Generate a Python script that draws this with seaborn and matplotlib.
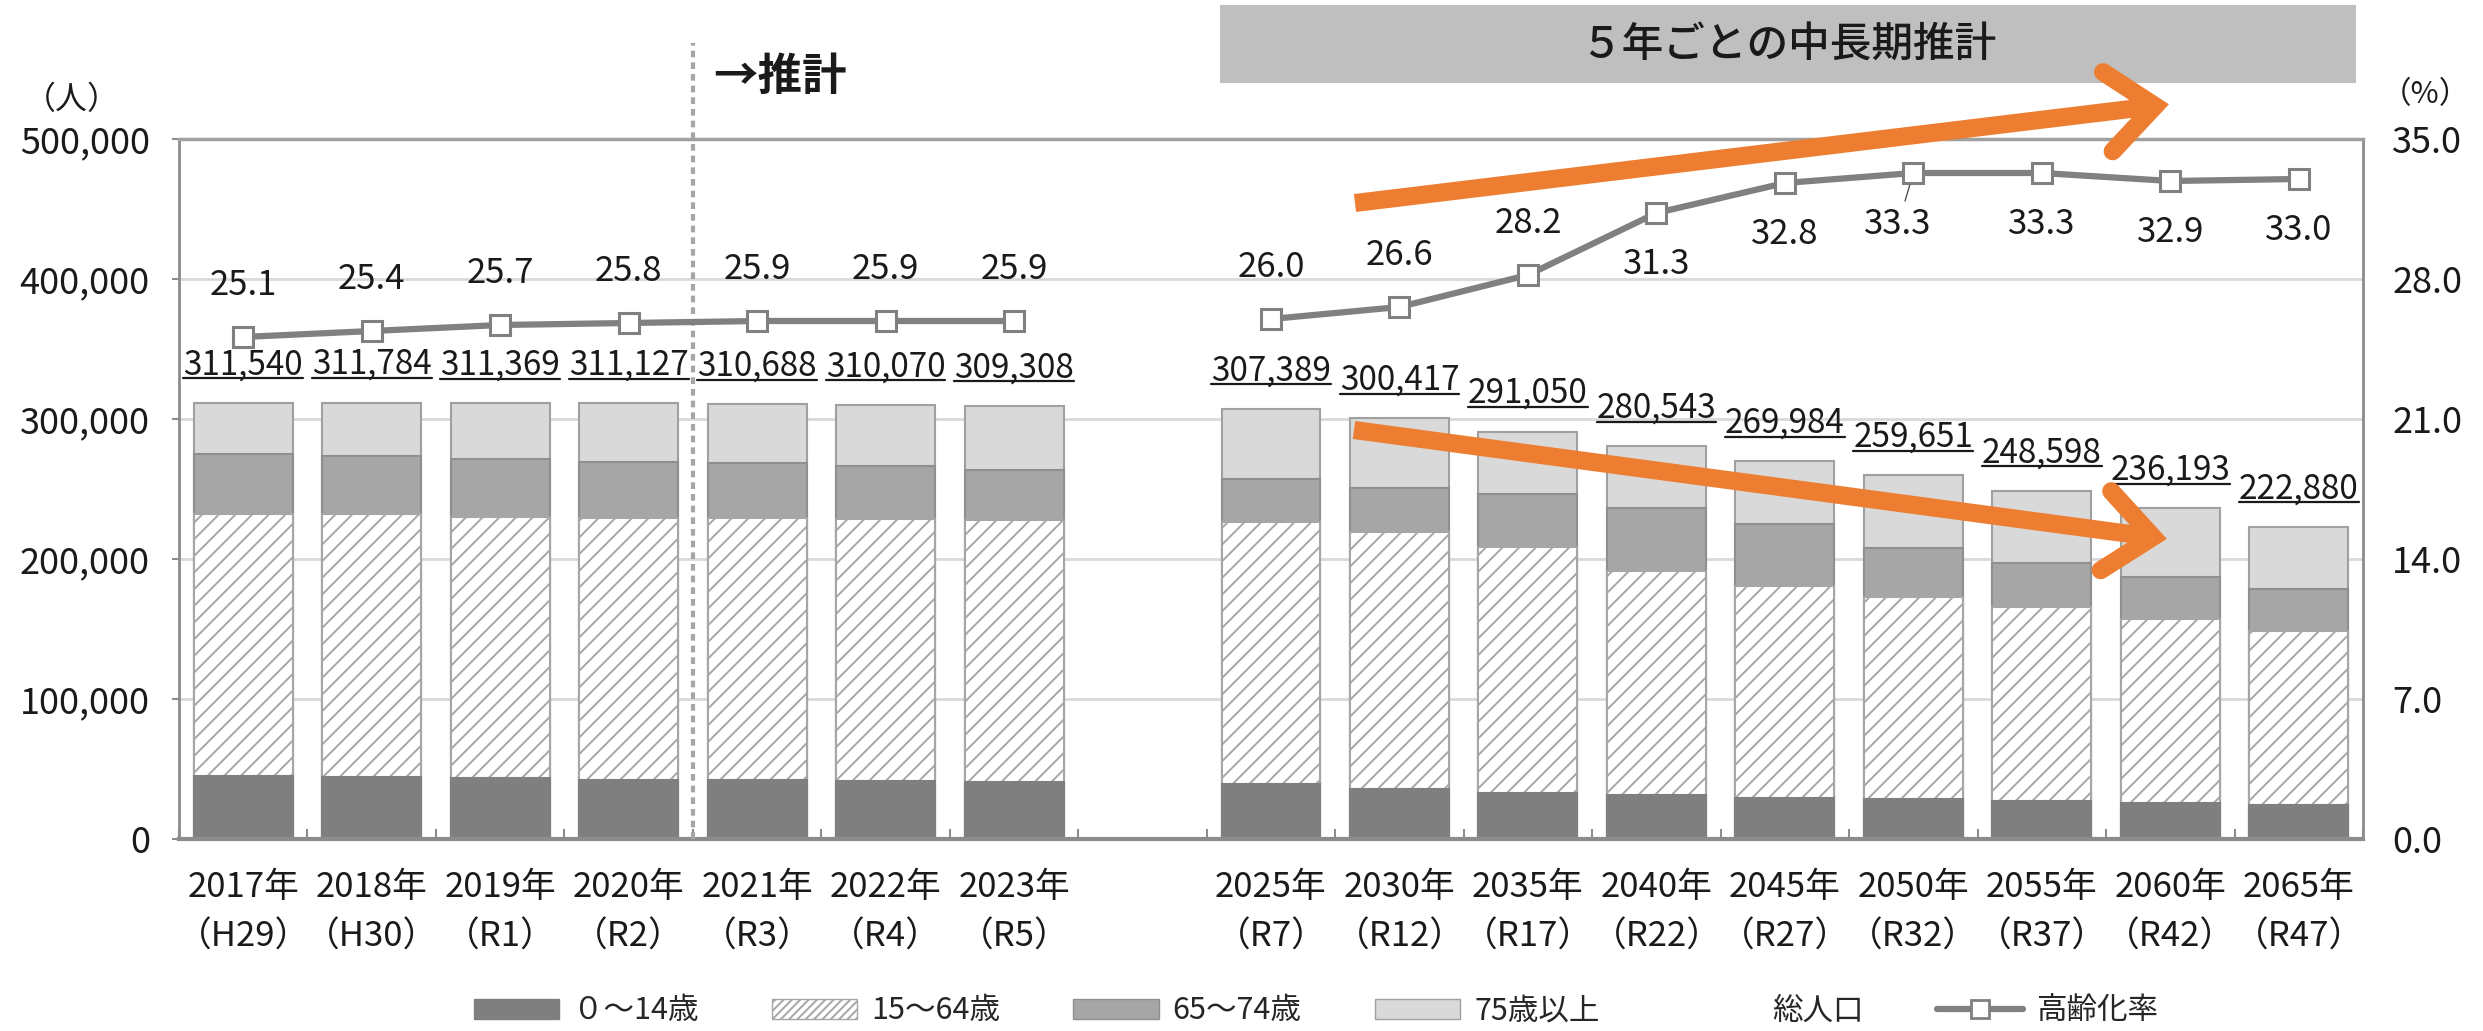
import numpy as np
import pandas as pd
import matplotlib
matplotlib.use("Agg")
import matplotlib.pyplot as plt
import seaborn as sns
from matplotlib.patches import Patch, Rectangle
from matplotlib.lines import Line2D
from matplotlib.ticker import FuncFormatter

# ---------------- data ----------------
years = ["2017年", "2018年", "2019年", "2020年", "2021年", "2022年", "2023年",
         "2025年", "2030年", "2035年", "2040年", "2045年", "2050年", "2055年", "2060年", "2065年"]
eras = ["（H29）", "（H30）", "（R1）", "（R2）", "（R3）", "（R4）", "（R5）",
        "（R7）", "（R12）", "（R17）", "（R22）", "（R27）", "（R32）", "（R37）", "（R42）", "（R47）"]
period = ["実績"] * 7 + ["中長期推計"] * 9

age_0_14 = [45000, 44400, 43500, 42300, 42300, 41200, 40600,
            39400, 35500, 33200, 31700, 29600, 28700, 27200, 25800, 24600]
age_15_64 = [186900, 187500, 186600, 187200, 186900, 187100, 187100,
             187100, 183600, 175600, 159900, 151000, 144500, 138300, 131700, 124100]
age_65_74 = [43200, 42000, 41200, 40000, 39400, 37900, 35800,
             30500, 31700, 37300, 45000, 44200, 35000, 31400, 29400, 29600]
age_75_plus = [36440, 37884, 40069, 41627, 42088, 43870, 45808,
               50389, 49617, 44950, 43943, 45184, 51451, 51698, 49293, 44580]
total_pop = [311540, 311784, 311369, 311127, 310688, 310070, 309308,
             307389, 300417, 291050, 280543, 269984, 259651, 248598, 236193, 222880]
aging_rate = [25.1, 25.4, 25.7, 25.8, 25.9, 25.9, 25.9,
              26.0, 26.6, 28.2, 31.3, 32.8, 33.3, 33.3, 32.9, 33.0]

legend_labels = ["０～14歳", "15～64歳", "65～74歳", "75歳以上", "総人口", "高齢化率"]

# layout-only helpers (label placement above/below the marker)
rate_label_side = ["above"] * 10 + ["below"] * 6
rate_label_dx = [0] * 12 + [-11] + [0] * 3      # 2050 label shifted, with leader line
rate_label_leader = [False] * 12 + [True] + [False] * 3

# ---------------- styling ----------------
sns.set_theme(style="white")
plt.rcParams["font.family"] = ["Noto Sans CJK JP", "DejaVu Sans"]
plt.rcParams["hatch.linewidth"] = 1.4
plt.rcParams["hatch.color"] = "#a6a6a6"

C_YOUNG = "#7f7f7f"
C_WORK = "#ffffff"
C_EARLY = "#a6a6a6"
C_LATE = "#d9d9d9"
C_EDGE = "#8f8f8f"
C_LINE = "#808080"
C_TEXT = "#1a1a1a"
C_ORANGE = "#ED7D31"

labels = [f"{y}\n{e}" for y, e in zip(years, eras)]
order = labels[:7] + [" "] + labels[7:]
pos = [order.index(l) for l in labels]

df = pd.DataFrame({
    "label": labels, "pos": pos, "period": period,
    "young": age_0_14, "work": age_15_64, "early": age_65_74, "late": age_75_plus,
    "total": total_pop, "rate": aging_rate,
})
df["c1"] = df["young"]
df["c2"] = df["c1"] + df["work"]
df["c3"] = df["c2"] + df["early"]
df["c4"] = df["c3"] + df["late"]

W, H = 2483, 1031
fig = plt.figure(figsize=(W / 100, H / 100), dpi=100)
ax = fig.add_axes([179 / W, (H - 839) / H, 2184 / W, 700 / H])

common = dict(data=df, x="label", order=order, width=0.77, saturation=1,
              errorbar=None, ax=ax, linewidth=1.5)
sns.barplot(y="c4", color=C_LATE, edgecolor="#a0a0a0", **common)
sns.barplot(y="c3", color=C_EARLY, edgecolor=C_EDGE, **common)
sns.barplot(y="c2", color=C_WORK, edgecolor="#a6a6a6", hatch="//", **common)
sns.barplot(y="c1", color=C_YOUNG, edgecolor=C_YOUNG, **common)

ax.set_xlim(-0.5, len(order) - 0.5)
ax.set_ylim(0, 500000)
ax.set_yticks(np.arange(0, 500001, 100000))
ax.yaxis.set_major_formatter(FuncFormatter(lambda v, p: f"{int(v):,}"))
ax.set_xlabel("")
ax.set_ylabel("")
ax.yaxis.grid(True, color="#d9d9d9", lw=2)
ax.set_axisbelow(True)
for s in ["left", "right", "bottom"]:
    ax.spines[s].set_color("#8c8c8c")
    ax.spines[s].set_linewidth(2)
ax.spines["bottom"].set_linewidth(3)
ax.spines["top"].set_color("#a0a0a0")
ax.spines["top"].set_linewidth(2.5)

ax.tick_params(axis="y", labelsize=26, colors="#8c8c8c", labelcolor=C_TEXT,
               length=5, width=1.5, direction="out", pad=16, left=True)
ax.tick_params(axis="x", which="major", length=0, labelsize=25, pad=22, labelcolor=C_TEXT)
ax.set_xticks(np.arange(-0.5, len(order), 1), minor=True)
ax.tick_params(axis="x", which="minor", direction="in", length=7, width=1.5,
               color="#8c8c8c", bottom=True)
for t in ax.get_xticklabels():
    t.set_linespacing(1.55)

# dotted separator between actual and estimated
ax.axvline(3.5, ymin=0, ymax=(839 - 43) / 700, clip_on=False, color="#a6a6a6",
           lw=3, ls=(0, (1.6, 1.2)), zorder=5)

# total population labels (underlined)
total_texts = []
for p, tot in zip(df["pos"], df["total"]):
    t = ax.annotate(f"{tot:,}", xy=(p, tot), xytext=(0, 20.5), textcoords="offset points",
                    ha="center", va="baseline", fontsize=24, color=C_TEXT, zorder=6)
    total_texts.append(t)

# aging rate line on secondary axis
ax2 = ax.twinx()
sns.lineplot(data=df, x="pos", y="rate", units="period", estimator=None, sort=True,
             color=C_LINE, lw=4.5, marker="s", markersize=15, markerfacecolor="white",
             markeredgecolor=C_LINE, markeredgewidth=2.2, legend=False, ax=ax2, zorder=5)
ax2.set_ylim(0, 35)
ax2.set_xlim(-0.5, len(order) - 0.5)
ax2.set_yticks(np.arange(0, 35.1, 7))
ax2.yaxis.set_major_formatter(FuncFormatter(lambda v, p: f"{v:.1f}"))
ax2.set_xlabel("")
ax2.set_ylabel("")
ax2.grid(False)
ax2.tick_params(axis="y", labelsize=26, labelcolor=C_TEXT, length=0, pad=21, right=True)
for s in ax2.spines.values():
    s.set_visible(False)

for p, r, side, dx, lead in zip(df["pos"], df["rate"], rate_label_side,
                                rate_label_dx, rate_label_leader):
    dy = 37 if side == "above" else -37
    arrow = None
    if lead:
        arrow = dict(arrowstyle="-", color="#555555", lw=1.0, shrinkA=2, shrinkB=9)
    ax2.annotate(f"{r:.1f}", xy=(p, r), xytext=(dx, dy), textcoords="offset points",
                 ha="center", va="center", fontsize=25, color=C_TEXT, zorder=7,
                 arrowprops=arrow)

# axis unit labels
fig.text(72 / W, 1 - 100 / H, "（人）", ha="center", va="center", fontsize=23, color=C_TEXT)
fig.text(2425 / W, 1 - 95 / H, "（%）", ha="center", va="center", fontsize=22, color=C_TEXT)

# estimate marker text
fig.text(780 / W, 1 - 77 / H, "→推計", ha="center", va="center", fontsize=32,
         fontweight="bold", color=C_TEXT)

# grey header box
fig.patches.append(Rectangle((1220 / W, 1 - 83 / H), 1136 / W, 78 / H,
                             transform=fig.transFigure, facecolor="#bfbfbf",
                             edgecolor="none", zorder=0))
fig.text(1788 / W, 1 - 45 / H, "５年ごとの中長期推計", ha="center", va="center",
         fontsize=30, fontweight="medium", color=C_TEXT)

# legend
handles = [
    Patch(facecolor=C_YOUNG, edgecolor=C_YOUNG),
    Patch(facecolor=C_WORK, edgecolor="#a6a6a6", hatch="////"),
    Patch(facecolor=C_EARLY, edgecolor=C_EDGE),
    Patch(facecolor=C_LATE, edgecolor="#a0a0a0"),
    Patch(facecolor="none", edgecolor="none"),
    Line2D([], [], color=C_LINE, lw=4.5, marker="s", markersize=13,
           markerfacecolor="white", markeredgecolor=C_LINE, markeredgewidth=2),
]
fig.legend(handles, legend_labels, loc="center", bbox_to_anchor=(0.530, 0.0194),
           ncol=6, frameon=False, fontsize=22, handlelength=2.8, handleheight=0.65,
           handletextpad=0.45, columnspacing=2.4)


# orange trend arrows (annotation)
def orange_arrow(start, tip, arm=62, ang=40):
    sx, sy = start
    tx, ty = tip
    back = np.arctan2(sy - ty, sx - tx)
    pts = []
    for a in (back + np.radians(ang), back - np.radians(ang)):
        pts.append((tx + arm * np.cos(a), ty + arm * np.sin(a)))
    to_fig = lambda x, y: (x / W, 1 - y / H)
    xs, ys = zip(*[to_fig(*start), to_fig(tx - 8 * np.cos(back + np.pi), ty - 8 * np.sin(back + np.pi))])
    fig.add_artist(Line2D(xs, ys, transform=fig.transFigure, color=C_ORANGE, lw=13,
                          solid_capstyle="butt", zorder=20))
    hx, hy = zip(*[to_fig(*pts[0]), to_fig(tx, ty), to_fig(*pts[1])])
    fig.add_artist(Line2D(hx, hy, transform=fig.transFigure, color=C_ORANGE, lw=13,
                          solid_capstyle="round", solid_joinstyle="miter", zorder=20))


orange_arrow((1355, 203), (2155, 106))
orange_arrow((1354, 430), (2153, 537))

# underline totals
fig.canvas.draw()
renderer = fig.canvas.get_renderer()
for t in total_texts:
    bb = t.get_window_extent(renderer)
    ax_x, ax_y = ax.transData.transform(t.xy)
    y_line = ax_y + 20.5 * fig.dpi / 72 - 4
    fig.add_artist(Line2D([bb.x0 / W, bb.x1 / W], [y_line / H, y_line / H],
                          transform=fig.transFigure, color=C_TEXT, lw=1.6, zorder=6))

fig.savefig("out.png", dpi=100)
